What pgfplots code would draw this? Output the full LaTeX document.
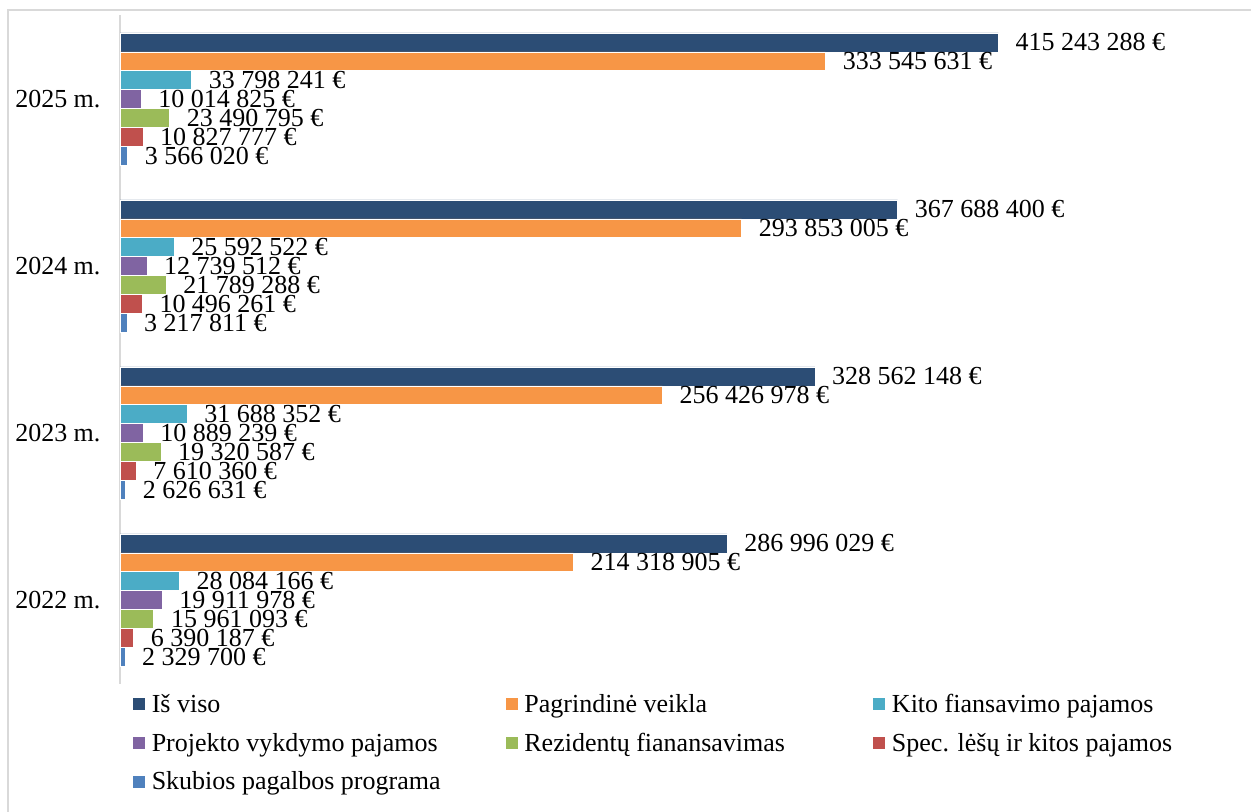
\documentclass[border=0pt]{standalone}
\usepackage{fontspec}
\setmainfont{Liberation Serif}
\usepackage{pgfplots}
\usepackage{pgfplotstable}
\pgfplotsset{compat=1.18}
\definecolor{cTot}{RGB}{44,77,117}
\definecolor{cPag}{RGB}{247,150,70}
\definecolor{cKit}{RGB}{75,172,198}
\definecolor{cPro}{RGB}{128,100,162}
\definecolor{cRez}{RGB}{155,187,89}
\definecolor{cSpe}{RGB}{192,80,77}
\definecolor{cSku}{RGB}{79,129,189}
\definecolor{frameg}{RGB}{217,217,217}

\pgfplotstableread[col sep=comma]{
y,x,l
0,286996029,286 996 029 €
1,328562148,328 562 148 €
2,367688400,367 688 400 €
3,415243288,415 243 288 €
}\tTot
\pgfplotstableread[col sep=comma]{
y,x,l
0,214318905,214 318 905 €
1,256426978,256 426 978 €
2,293853005,293 853 005 €
3,333545631,333 545 631 €
}\tPag
\pgfplotstableread[col sep=comma]{
y,x,l
0,28084166,28 084 166 €
1,31688352,31 688 352 €
2,25592522,25 592 522 €
3,33798241,33 798 241 €
}\tKit
\pgfplotstableread[col sep=comma]{
y,x,l
0,19911978,19 911 978 €
1,10889239,10 889 239 €
2,12739512,12 739 512 €
3,10014825,10 014 825 €
}\tPro
\pgfplotstableread[col sep=comma]{
y,x,l
0,15961093,15 961 093 €
1,19320587,19 320 587 €
2,21789288,21 789 288 €
3,23490795,23 490 795 €
}\tRez
\pgfplotstableread[col sep=comma]{
y,x,l
0,6390187,6 390 187 €
1,7610360,7 610 360 €
2,10496261,10 496 261 €
3,10827777,10 827 777 €
}\tSpe
\pgfplotstableread[col sep=comma]{
y,x,l
0,2329700,2 329 700 €
1,2626631,2 626 631 €
2,3217811,3 217 811 €
3,3566020,3 566 020 €
}\tSku

\begin{document}
\begin{tikzpicture}[font=\fontsize{26bp}{30bp}\selectfont]
\path[use as bounding box] (0,0) rectangle (1251bp,812bp);
\draw[frameg, line width=1.5bp] (8bp,0) -- (8bp,802bp) -- (1251bp,802bp);
\begin{axis}[
  at={(120bp,128.5bp)}, anchor=south west,
  scale only axis, width=1121bp, height=668bp,
  xbar, xmin=0, xmax=530000000, ymin=-0.5, ymax=3.5,
  axis x line=none, axis y line*=left,
  y axis line style={frameg, line width=1.5bp},
  ytick={0,1,2,3}, yticklabels={2022 m.,2023 m.,2024 m.,2025 m.},
  major tick length=0pt, ytick style={draw=none},
  yticklabel style={xshift=-16bp},
  bar width=0.113,
  clip=false,
  point meta=explicit symbolic,
  nodes near coords,
  every node near coord/.append style={anchor=west, xshift=17bp, inner sep=0pt, text=black},
  legend image code/.code={\fill[#1] (0bp,-6.5bp) rectangle (13bp,6.5bp);},
  legend columns=3,
  legend style={draw=none, fill=none, at={(axis description cs:0.0107,-0.0157)}, anchor=north west,
    inner sep=0pt, row sep=19bp,
    nodes={inner sep=0pt, anchor=west},
    /tikz/every odd column/.append style={column sep=6bp}},
  legend cell align=left,
]
\addplot[fill=cTot, draw=white, line width=0.6bp, bar shift=0.339] table[x=x,y=y,meta=l]{\tTot};
\addlegendentry{\makebox[353bp][l]{Iš viso}}
\addplot[fill=cPag, draw=white, line width=0.6bp, bar shift=0.226] table[x=x,y=y,meta=l]{\tPag};
\addlegendentry{\makebox[348bp][l]{Pagrindinė veikla}}
\addplot[fill=cKit, draw=white, line width=0.6bp, bar shift=0.113] table[x=x,y=y,meta=l]{\tKit};
\addlegendentry{Kito fiansavimo pajamos}
\addplot[fill=cPro, draw=white, line width=0.6bp, bar shift=0] table[x=x,y=y,meta=l]{\tPro};
\addlegendentry{\makebox[353bp][l]{Projekto vykdymo pajamos}}
\addplot[fill=cRez, draw=white, line width=0.6bp, bar shift=-0.113] table[x=x,y=y,meta=l]{\tRez};
\addlegendentry{\makebox[348bp][l]{Rezidentų fianansavimas}}
\addplot[fill=cSpe, draw=white, line width=0.6bp, bar shift=-0.226] table[x=x,y=y,meta=l]{\tSpe};
\addlegendentry{Spec. lėšų ir kitos pajamos}
\addplot[fill=cSku, draw=white, line width=0.6bp, bar shift=-0.339] table[x=x,y=y,meta=l]{\tSku};
\addlegendentry{\makebox[353bp][l]{Skubios pagalbos programa}}
\end{axis}
\end{tikzpicture}
\end{document}
